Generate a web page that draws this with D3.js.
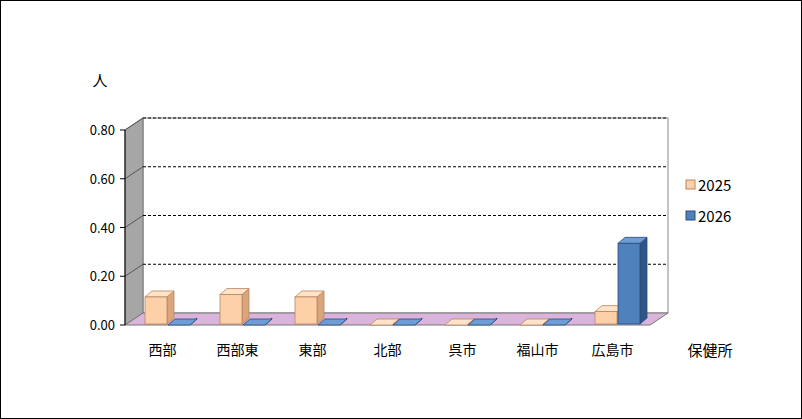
<!DOCTYPE html><html><head><meta charset="utf-8"><script src="https://cdn.jsdelivr.net/npm/d3@7"></script>
<style>body{margin:0;background:#fff}svg{display:block}text{font-family:"Noto Sans CJK JP","Liberation Sans",sans-serif}</style></head><body><svg width="802" height="419"></svg>
<script>
const categories=["西部","西部東","東部","北部","呉市","福山市","広島市"];
const series=["2025","2026"];
const v2025=[0.115,0.125,0.115,0,0,0,0.055];
const v2026=[0,0,0,0,0,0,0.335];
const ticks=[0,0.2,0.4,0.6,0.8];
const svg=d3.select("svg");
svg.append("rect").attr("x",0.5).attr("y",0.5).attr("width",801).attr("height",418).attr("fill","#fff").attr("stroke","#000");
const x=d3.scaleBand().domain(categories).range([125,650]);
const y=d3.scaleLinear().domain([0,0.8]).range([325,130]);
const DX=18,DY=-12;
svg.append("rect").attr("x",125+DX).attr("y",y(0.8)+DY).attr("width",525).attr("height",y(0)-y(0.8)).attr("fill","#fff").attr("stroke","#888");
svg.append("path").attr("d",`M125,${y(0)}L125,${y(0.8)}L${125+DX},${y(0.8)+DY}L${125+DX},${y(0)+DY}Z`).attr("fill","#a6a6a6").attr("stroke","#777");
svg.append("path").attr("d",`M125,${y(0)}L650,${y(0)}L${650+DX},${y(0)+DY}L${125+DX},${y(0)+DY}Z`).attr("fill","#dbb4dc").attr("stroke","#777");
ticks.filter(t=>t>0).forEach(t=>{svg.append("line").attr("x1",125+DX).attr("x2",650+DX).attr("y1",y(t)+DY).attr("y2",y(t)+DY).attr("stroke","#000").attr("stroke-dasharray","3,2");
svg.append("line").attr("x1",125).attr("x2",125+DX).attr("y1",y(t)).attr("y2",y(t)+DY).attr("stroke","#555");});
svg.append("line").attr("x1",125).attr("x2",125).attr("y1",y(0)).attr("y2",y(0.8)).attr("stroke","#000");
ticks.forEach(t=>{svg.append("line").attr("x1",120).attr("x2",125).attr("y1",y(t)).attr("y2",y(t)).attr("stroke","#000");
svg.append("text").attr("x",115).attr("y",y(t)+5).attr("text-anchor","end").attr("font-size",13).text(t.toFixed(2));});
const cols=[{f:"#fdd0a8",t:"#fee3c9",s:"#d9a57c",o:"#b8865f"},{f:"#4f81bd",t:"#6e9cd6",s:"#2f5688",o:"#2a4d7a"}];
const bw=22,dx=7,dy=-6;
categories.forEach((c,i)=>{[v2025[i],v2026[i]].forEach((v,k)=>{
 const x0=x(c)+20+k*(bw+1),y0=y(v),yb=y(0)-1,col=cols[k];
 const g=svg.append("g").attr("stroke",col.o).attr("stroke-width",0.8);
 g.append("path").attr("d",`M${x0+bw},${yb}L${x0+bw+dx},${yb+dy}L${x0+bw+dx},${y0+dy}L${x0+bw},${y0}Z`).attr("fill",col.s);
 g.append("path").attr("d",`M${x0},${y0}L${x0+dx},${y0+dy}L${x0+bw+dx},${y0+dy}L${x0+bw},${y0}Z`).attr("fill",col.t);
 g.append("rect").attr("x",x0).attr("y",y0).attr("width",bw).attr("height",Math.max(0,yb-y0)).attr("fill",col.f);
});
 svg.append("text").attr("x",x(c)+x.bandwidth()/2).attr("y",355).attr("text-anchor","middle").attr("font-size",14).text(c);
});
svg.append("text").attr("x",100).attr("y",86).attr("text-anchor","middle").attr("font-size",15).text("人");
svg.append("text").attr("x",710).attr("y",356).attr("text-anchor","middle").attr("font-size",15).text("保健所");
series.forEach((s,k)=>{const yy=185+k*31;
 svg.append("rect").attr("x",686).attr("y",yy-5).attr("width",9).attr("height",9).attr("fill",cols[k].f).attr("stroke",cols[k].o);
 svg.append("text").attr("x",698).attr("y",yy+6).attr("font-size",15).text(s);});
</script></body></html>
